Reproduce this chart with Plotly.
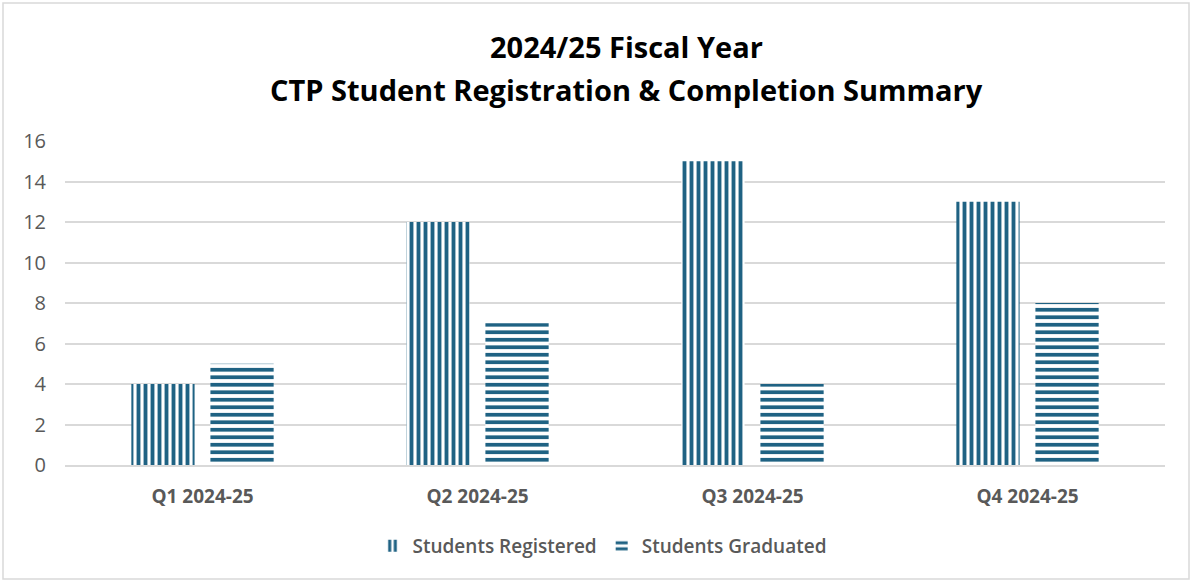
import plotly.graph_objects as go

categories = ["Q1 2024-25", "Q2 2024-25", "Q3 2024-25", "Q4 2024-25"]
registered = [4, 12, 15, 13]
graduated = [5, 7, 4, 8]
series_names = ["Students Registered", "Students Graduated"]
title_lines = ["2024/25 Fiscal Year", "CTP Student Registration & Completion Summary"]

COLOR = "#1F6283"
FONT = "Open Sans, Noto Sans, Liberation Sans, sans-serif"

fig = go.Figure()
fig.add_trace(go.Bar(
    x=categories, y=registered, name=series_names[0],
    marker=dict(color="white", line=dict(width=0),
                pattern=dict(shape="|", fgcolor=COLOR, bgcolor="white", fgopacity=1,
                             size=7, solidity=0.55, fillmode="replace")),
))
fig.add_trace(go.Bar(
    x=categories, y=graduated, name=series_names[1],
    marker=dict(color="white", line=dict(width=0),
                pattern=dict(shape="-", fgcolor=COLOR, bgcolor="white", fgopacity=1,
                             size=7.5, solidity=0.5, fillmode="replace")),
))

W, H = 1193, 582
ml, mr, mt, mb = 65, 28, 141, 117
pw, ph = W - ml - mr, H - mt - mb

def px(x):
    return (x - ml) / pw

def py(y):
    return (H - mb - y) / ph

annotations = [
    dict(text="<b>" + title_lines[0] + "</b>", xref="paper", yref="paper",
         x=px(626), y=py(46), xanchor="center", yanchor="middle", showarrow=False,
         font=dict(family=FONT, size=29, color="black")),
    dict(text="<b>" + title_lines[1] + "</b>", xref="paper", yref="paper",
         x=px(626), y=py(90), xanchor="center", yanchor="middle", showarrow=False,
         font=dict(family=FONT, size=29, color="black")),
]

fig.update_layout(
    width=W, height=H,
    margin=dict(l=ml, r=mr, t=mt, b=mb),
    paper_bgcolor="white", plot_bgcolor="white",
    barmode="group", bargap=0.425, bargroupgap=0.2,
    font=dict(family=FONT, color="#595959"),
    annotations=annotations,
    showlegend=True,
    legend=dict(orientation="h", x=px(602), xanchor="center", y=py(546), yanchor="middle",
                font=dict(size=19, color="#595959", weight=600), itemwidth=30,
                traceorder="normal"),
    shapes=[dict(type="rect", xref="paper", yref="paper",
                 x0=px(3), x1=px(W - 4), y0=py(H - 3), y1=py(3),
                 line=dict(color="#D9D9D9", width=1.5), fillcolor="rgba(0,0,0,0)",
                 layer="below")],
)
fig.update_xaxes(
    showgrid=False, showline=True, linecolor="#D9D9D9", linewidth=1.5,
    ticks="", ticklabelstandoff=13,
    tickfont=dict(size=19, color="#595959", family=FONT, weight="bold"),
)
fig.update_yaxes(
    range=[0, 16], dtick=2, showgrid=True, gridcolor="#D9D9D9", gridwidth=1.5,
    zeroline=False, showline=False, ticks="", ticklabelstandoff=18,
    tickfont=dict(size=20, color="#595959", family=FONT),
)

fig.write_html("out.html")
